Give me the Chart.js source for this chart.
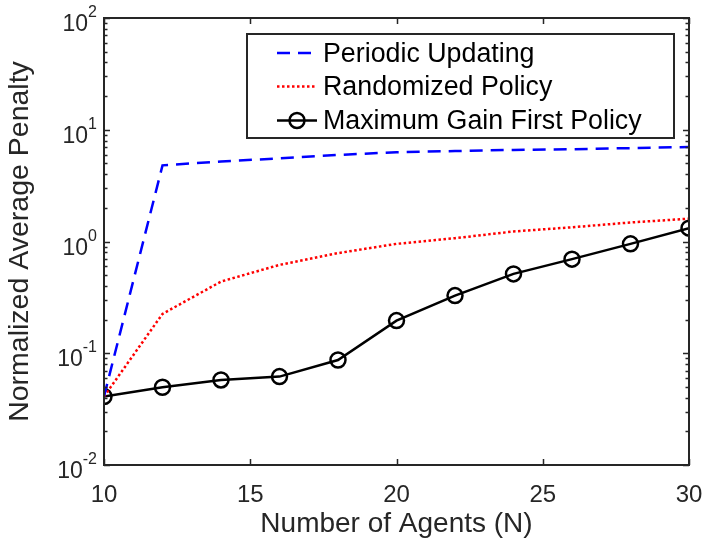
<!DOCTYPE html>
<html lang="en">
<head>
<meta charset="UTF-8">
<title>Normalized Average Penalty vs Number of Agents</title>
<script src="https://cdn.jsdelivr.net/npm/chart.js@4.4.1/dist/chart.umd.min.js"></script>
<style>
    html, body { margin: 0; padding: 0; background: #fff; }
    canvas { display: block; }
</style>
</head>
<body>
<canvas id="penaltyChart" width="706" height="544"></canvas>
<script>
// number of agents on the x axis
const agents = [10, 12, 14, 16, 18, 20, 22, 24, 26, 28, 30];

// normalized average penalty for each policy
const periodic   = [0.041, 4.8, 5.2, 5.55, 5.95, 6.3, 6.45, 6.6, 6.7, 6.85, 7.0];
const randomized = [0.041, 0.225, 0.438, 0.618, 0.787, 0.953, 1.07, 1.23, 1.34, 1.48, 1.6];
const maxGain    = [0.041, 0.0496, 0.0577, 0.0618, 0.087, 0.196, 0.328, 0.513, 0.695, 0.953, 1.316];

const seriesNames = ['Periodic Updating', 'Randomized Policy', 'Maximum Gain First Policy'];
const xTicks = [10, 15, 20, 25, 30];
const yExponents = [-2, -1, 0, 1, 2];

const FONT = "'Liberation Sans', Arial, Helvetica, sans-serif";
const AXIS = '#262626';

function points(ys) {
    return agents.map((x, i) => ({ x: x, y: ys[i] }));
}

// axes box, inward ticks, power-of-ten labels and the legend
const matlabAxes = {
    id: 'matlabAxes',
    afterDraw(chart) {
        const ctx = chart.ctx;
        const a = chart.chartArea;
        const xs = chart.scales.x, ys = chart.scales.y;
        ctx.save();
        ctx.strokeStyle = AXIS;
        ctx.lineWidth = 2;
        ctx.strokeRect(a.left, a.top, a.right - a.left, a.bottom - a.top);

        ctx.lineWidth = 1.5;
        ctx.beginPath();
        xTicks.forEach(v => {
            const px = Math.round(xs.getPixelForValue(v)) + 0.5;
            ctx.moveTo(px, a.bottom); ctx.lineTo(px, a.bottom - 6);
            ctx.moveTo(px, a.top); ctx.lineTo(px, a.top + 6);
        });
        yExponents.forEach((e, i) => {
            const py = Math.round(ys.getPixelForValue(Math.pow(10, e))) + 0.5;
            ctx.moveTo(a.left, py); ctx.lineTo(a.left + 6, py);
            ctx.moveTo(a.right, py); ctx.lineTo(a.right - 6, py);
            if (i < yExponents.length - 1) {
                for (let m = 2; m <= 9; m++) {
                    const pm = Math.round(ys.getPixelForValue(m * Math.pow(10, e))) + 0.5;
                    ctx.moveTo(a.left, pm); ctx.lineTo(a.left + 3.5, pm);
                    ctx.moveTo(a.right, pm); ctx.lineTo(a.right - 3.5, pm);
                }
            }
        });
        ctx.stroke();

        // y tick labels: 10 with a superscript exponent
        ctx.fillStyle = AXIS;
        ctx.textBaseline = 'alphabetic';
        yExponents.forEach(e => {
            const py = ys.getPixelForValue(Math.pow(10, e));
            const exp = String(e);
            ctx.font = '16px ' + FONT;
            const ew = ctx.measureText(exp).width;
            const right = a.left - 7;
            ctx.textAlign = 'right';
            ctx.fillText(exp, right, py - 1);
            ctx.font = '23px ' + FONT;
            ctx.fillText('10', right - ew, py + 13);
        });

        // legend
        const lx = 247, ly = 34, lw = 427, lh = 104;
        ctx.fillStyle = '#fff';
        ctx.fillRect(lx, ly, lw, lh);
        ctx.lineWidth = 2;
        ctx.strokeStyle = AXIS;
        ctx.strokeRect(lx, ly, lw, lh);
        const baselines = [61.5, 95, 129];
        chart.data.datasets.forEach((ds, i) => {
            const cy = baselines[i] - 8.5;
            ctx.save();
            ctx.strokeStyle = ds.borderColor;
            ctx.lineWidth = ds.borderWidth;
            ctx.setLineDash(ds.borderDash || []);
            ctx.beginPath();
            ctx.moveTo(277, cy); ctx.lineTo(317, cy);
            ctx.stroke();
            ctx.setLineDash([]);
            if (ds.pointRadius > 0) {
                ctx.beginPath();
                ctx.arc(297, cy, ds.pointRadius, 0, Math.PI * 2);
                ctx.lineWidth = ds.pointBorderWidth;
                ctx.stroke();
            }
            ctx.restore();
            ctx.fillStyle = '#000';
            ctx.textAlign = 'left';
            ctx.font = '26.8px ' + FONT;
            ctx.fillText(ds.label, 323, baselines[i]);
        });
        ctx.restore();
    }
};

new Chart(document.getElementById('penaltyChart'), {
    type: 'line',
    data: {
        datasets: [
            {
                label: seriesNames[0],
                data: points(periodic),
                borderColor: '#0000ff',
                borderWidth: 2.5,
                borderDash: [13, 8],
                pointRadius: 0,
                tension: 0
            },
            {
                label: seriesNames[1],
                data: points(randomized),
                borderColor: '#ff0000',
                borderWidth: 2.5,
                borderDash: [2.5, 2.5],
                pointRadius: 0,
                tension: 0
            },
            {
                label: seriesNames[2],
                data: points(maxGain),
                borderColor: '#000000',
                borderWidth: 2.5,
                pointRadius: 7.5,
                pointBorderWidth: 2.5,
                pointBorderColor: '#000000',
                pointBackgroundColor: 'rgba(0,0,0,0)',
                tension: 0
            }
        ]
    },
    options: {
        responsive: false,
        devicePixelRatio: 1,
        animation: false,
        events: [],
        layout: { padding: { left: 0, right: 17, top: 18, bottom: 0 } },
        plugins: {
            legend: { display: false },
            tooltip: { enabled: false }
        },
        scales: {
            x: {
                type: 'linear',
                min: 10,
                max: 30,
                afterBuildTicks: scale => { scale.ticks = xTicks.map(v => ({ value: v })); },
                afterFit: scale => {
                    scale.height = 79;
                    scale.paddingLeft = 0;
                    scale.paddingRight = 0;
                },
                grid: { display: false },
                border: { display: false },
                ticks: {
                    color: AXIS,
                    font: { family: FONT, size: 24 },
                    padding: 8,
                    maxRotation: 0
                },
                title: {
                    display: true,
                    text: 'Number of Agents (N)',
                    color: AXIS,
                    font: { family: FONT, size: 28 },
                    padding: { top: 0, bottom: 3 }
                }
            },
            y: {
                type: 'logarithmic',
                min: 0.01,
                max: 100,
                afterFit: scale => { scale.width = 104; },
                grid: { display: false },
                border: { display: false },
                ticks: { display: false },
                title: {
                    display: true,
                    text: 'Normalized Average Penalty',
                    color: AXIS,
                    font: { family: FONT, size: 28.5 },
                    padding: { top: 3, bottom: 0 }
                }
            }
        }
    },
    plugins: [matlabAxes]
});
</script>
</body>
</html>
